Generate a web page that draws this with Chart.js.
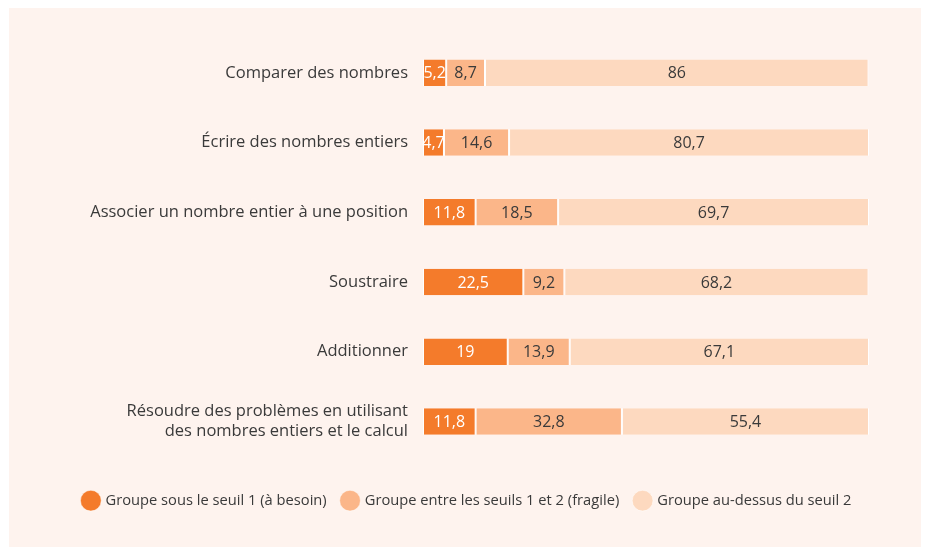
<!DOCTYPE html>
<html lang="fr">
<head>
<meta charset="utf-8">
<script src="https://cdn.jsdelivr.net/npm/chart.js@4"></script>
<style>
  html, body { margin: 0; padding: 0; background: #ffffff; }
  #panel { position: absolute; left: 9px; top: 8px; width: 912px; height: 539px; background: #fef3ee; }
  #wrap { position: absolute; left: 0; top: 0; width: 925px; height: 547px; }
</style>
</head>
<body>
<div id="panel"></div>
<div id="wrap"><canvas id="chart"></canvas></div>
<script>
// Skills (categories) and share of pupils in each group, in %
const skills = [
    "Comparer des nombres",
    "Écrire des nombres entiers",
    "Associer un nombre entier à une position",
    "Soustraire",
    "Additionner",
    ["Résoudre des problèmes en utilisant", "des nombres entiers et le calcul"]
];
const belowSeuil1 = [5.2, 4.7, 11.8, 22.5, 19, 11.8];
const betweenSeuils = [8.7, 14.6, 18.5, 9.2, 13.9, 32.8];
const aboveSeuil2 = [86, 80.7, 69.7, 68.2, 67.1, 55.4];

const seriesNames = [
    "Groupe sous le seuil 1 (à besoin)",
    "Groupe entre les seuils 1 et 2 (fragile)",
    "Groupe au-dessus du seuil 2"
];

const fontFamily = "'Open Sans', sans-serif";
const textColor = "#3a3a3a";

// Writes the value in the middle of every segment
const valueLabels = {
    id: "valueLabels",
    afterDatasetsDraw(chart) {
        const ctx = chart.ctx;
        ctx.save();
        ctx.font = "16px " + fontFamily;
        ctx.textAlign = "center";
        ctx.textBaseline = "middle";
        chart.data.datasets.forEach((ds, i) => {
            const meta = chart.getDatasetMeta(i);
            meta.data.forEach((bar, j) => {
                const v = ds.data[j];
                const x = (bar.x + bar.base) / 2;
                ctx.fillStyle = i === 0 ? "#ffffff" : textColor;
                ctx.fillText(String(v).replace(".", ","), x, bar.y + 1);
            });
        });
        ctx.restore();
    }
};

// Moves the legend a little to the right, as in the original
const legendShift = {
    id: "legendShift",
    afterLayout(chart) {
        chart.legend.left += 28;
        chart.legend.right += 28;
    }
};

const ctx = document.getElementById("chart").getContext("2d");
const chart = new Chart(ctx, {
    type: "bar",
    data: {
        labels: skills,
        datasets: [
            { label: seriesNames[0], data: belowSeuil1, backgroundColor: "#f47b2b" },
            { label: seriesNames[1], data: betweenSeuils, backgroundColor: "#fbb689" },
            { label: seriesNames[2], data: aboveSeuil2, backgroundColor: "#fdd9bf" }
        ].map(d => Object.assign(d, {
            borderColor: "#ffffff",
            borderWidth: { left: 1, right: 1, top: 0, bottom: 0 },
            borderSkipped: false,
            categoryPercentage: 1,
            barPercentage: 0.38
        }))
    },
    options: {
        indexAxis: "y",
        responsive: true,
        maintainAspectRatio: false,
        animation: false,
        layout: { padding: { top: 38, right: 56, bottom: 29, left: 10 } },
        scales: {
            x: {
                stacked: true,
                min: 0,
                max: 100,
                display: false
            },
            y: {
                stacked: true,
                grid: { display: false },
                border: { display: false },
                afterFit(scale) { scale.width = 413; },
                ticks: {
                    color: textColor,
                    font: { family: fontFamily, size: 16.5 },
                    padding: 7
                }
            }
        },
        plugins: {
            legend: {
                position: "bottom",
                title: { display: true, text: "", font: { size: 1, lineHeight: 1 }, padding: 10 },
                labels: {
                    usePointStyle: true,
                    pointStyle: "circle",
                    boxWidth: 15,
                    boxHeight: 15,
                    color: textColor,
                    font: { family: fontFamily, size: 14.7 },
                    padding: 16
                }
            },
            tooltip: { enabled: false }
        }
    },
    plugins: [valueLabels, legendShift]
});
</script>
</body>
</html>
